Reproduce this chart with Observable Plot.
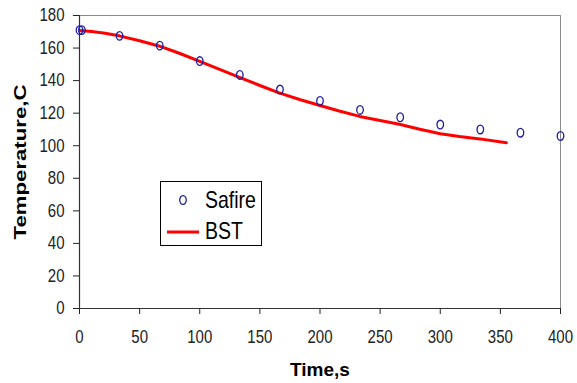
<!DOCTYPE html>
<html>
<head>
<meta charset="utf-8">
<script src="https://cdn.jsdelivr.net/npm/d3@7"></script>
<script src="https://cdn.jsdelivr.net/npm/@observablehq/plot@0.6"></script>
<style>
  html, body { margin: 0; padding: 0; background: #fff; }
  #wrap { position: relative; width: 577px; height: 383px; }
  #legend { position: absolute; left: 160px; top: 181px; width: 100px; height: 63px;
            border: 1px solid #000; background: #fff; box-sizing: content-box; }
  #legend svg { position: absolute; left: 0; top: 0; }
</style>
</head>
<body>
<div id="wrap"><div id="chart"></div><div id="legend"></div></div>
<script>
const safireTime = [0, 2, 33.3, 66.7, 100, 133.3, 166.7, 200, 233.3, 266.7, 300, 333.3, 366.7, 400];
const safireTemp = [171, 171, 167.5, 161.5, 152, 143.5, 134.5, 127.5, 122, 117.5, 113, 110, 108, 106];
const bstTime = [0, 10, 20, 33, 50, 66, 83, 100, 116, 133, 150, 166, 183, 200, 216, 233, 250, 266, 283, 300, 316, 333, 355];
const bstTemp = [170.8, 170.2, 169.3, 167.5, 164.5, 161.3, 156.8, 151.8, 147, 142, 137, 132.5, 128.4, 124.7, 121.3, 118, 115.5, 113.2, 110.1, 107.4, 105.7, 104.2, 101.8];
const xTicks = [0, 50, 100, 150, 200, 250, 300, 350, 400];
const yTicks = [0, 20, 40, 60, 80, 100, 120, 140, 160, 180];

const safire = safireTime.map((t, i) => ({t, v: safireTemp[i]}));
const bst = bstTime.map((t, i) => ({t, v: bstTemp[i]}));

const ellipse = {
  draw(ctx, size) {
    const r = Math.sqrt(size / Math.PI);
    const rx = r * 0.82, ry = r * 1.08, k = 0.5523;
    ctx.moveTo(rx, 0);
    ctx.bezierCurveTo(rx, ry * k, rx * k, ry, 0, ry);
    ctx.bezierCurveTo(-rx * k, ry, -rx, ry * k, -rx, 0);
    ctx.bezierCurveTo(-rx, -ry * k, -rx * k, -ry, 0, -ry);
    ctx.bezierCurveTo(rx * k, -ry, rx, -ry * k, rx, 0);
    ctx.closePath();
  }
};

const font = "'Liberation Sans', Arial, sans-serif";
const blue = "#1c1ca0";

const chart = Plot.plot({
  width: 577,
  height: 383,
  marginLeft: 79,
  marginRight: 17,
  marginTop: 15,
  marginBottom: 75,
  style: { fontFamily: font, fontSize: "15px", color: "#222", background: "#fff" },
  x: { domain: [0, 400], ticks: xTicks, tickSize: 6, tickPadding: 15, label: "Time,s", labelAnchor: "center", labelArrow: "none", labelOffset: 67 },
  y: { domain: [0, 180], ticks: yTicks, tickSize: 6, tickPadding: 9, label: "Temperature,C", labelAnchor: "center", labelArrow: "none", labelOffset: 66 },
  marks: [
    Plot.ruleY([180], { stroke: "#8c8c8c", strokeWidth: 1 }),
    Plot.ruleX([400], { stroke: "#8c8c8c", strokeWidth: 1 }),
    Plot.ruleX([0], { stroke: "#333", strokeWidth: 1.2 }),
    Plot.ruleY([0], { stroke: "#333", strokeWidth: 1.2 }),
    Plot.line(bst, { x: "t", y: "v", stroke: "#ff0000", strokeWidth: 3 }),
    Plot.dot(safire, { x: "t", y: "v", r: 4, symbol: ellipse, stroke: blue, strokeWidth: 1.3, fill: "none" })
  ]
});
document.getElementById("chart").appendChild(chart);

// tick labels: stretch vertically like the reference
chart.querySelectorAll("g[aria-label='x-axis tick label'] text, g[aria-label='y-axis tick label'] text").forEach(t => {
  const tr = t.getAttribute("transform") || "";
  t.setAttribute("transform", tr + " scale(1,1.22)");
});

// axis titles (bold)
chart.querySelectorAll("g[aria-label='x-axis label'] text, g[aria-label='y-axis label'] text").forEach(t => {
  t.style.fontWeight = "bold";
  t.style.fill = "#000";
});
const yl = chart.querySelector("g[aria-label='y-axis label'] text");
if (yl) { yl.style.fontSize = "17px"; yl.setAttribute("textLength", 155); yl.setAttribute("lengthAdjust", "spacingAndGlyphs"); }
const xl = chart.querySelector("g[aria-label='x-axis label'] text");
if (xl) { xl.style.fontSize = "19px"; }

// legend
const lg = d3.select("#legend").append("svg").attr("width", 100).attr("height", 63);
lg.append("path")
  .attr("d", (() => { const p = d3.path(); ellipse.draw(p, Math.PI * 16); return p.toString(); })())
  .attr("transform", "translate(22,18)")
  .attr("fill", "none").attr("stroke", blue).attr("stroke-width", 1.3);
lg.append("line").attr("x1", 6).attr("x2", 38).attr("y1", 50).attr("y2", 50).attr("stroke", "#ff0000").attr("stroke-width", 3);
lg.selectAll("text").data(["Safire", "BST"]).join("text")
  .attr("transform", (d, i) => `translate(44,${i === 0 ? 26 : 57}) scale(1,1.2)`)
  .attr("font-family", font).attr("font-size", 19.5).attr("fill", "#000")
  .text(d => d);
</script>
</body>
</html>
